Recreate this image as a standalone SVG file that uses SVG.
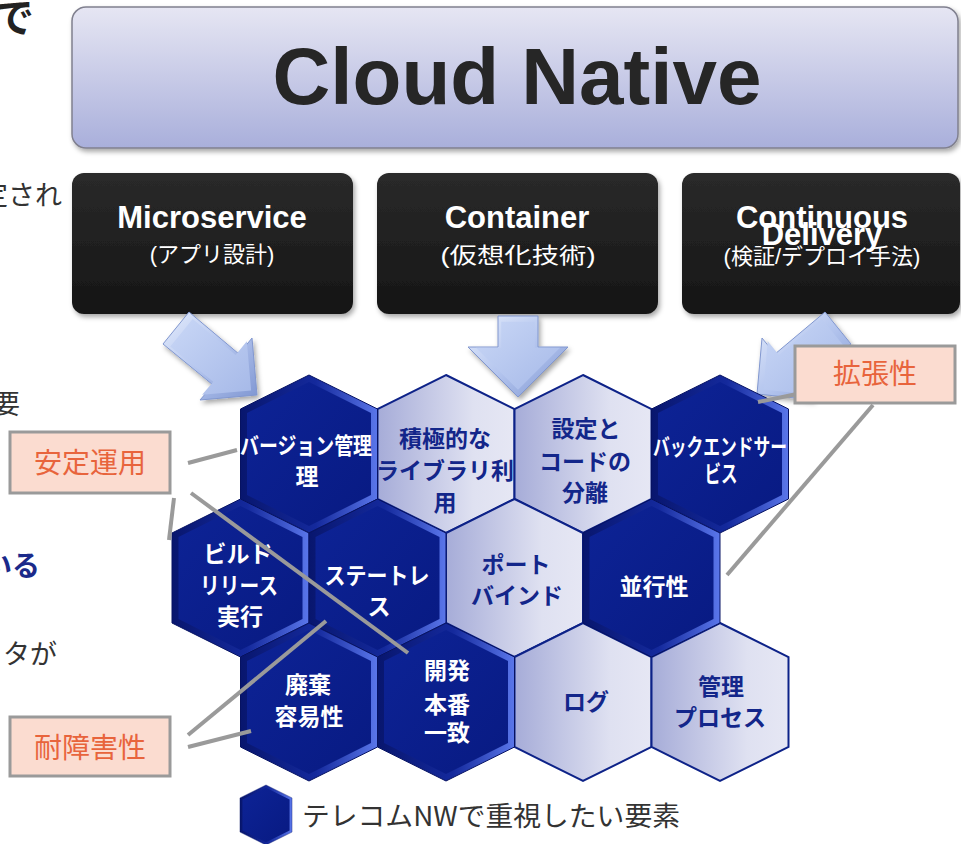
<svg xmlns="http://www.w3.org/2000/svg" xmlns:xlink="http://www.w3.org/1999/xlink" width="961" height="844" viewBox="0 0 961 844">
  <style>
    .jp { font-family: "Noto Sans CJK JP", "Liberation Sans", sans-serif; }
    .en { font-family: "Liberation Sans", "Noto Sans CJK JP", sans-serif; }
    .hl { font-family: "Noto Sans CJK JP", sans-serif; font-weight: 700; font-size: 23px; text-anchor: middle; }
    .hw { fill: #ffffff; }
    .hb { fill: #13268a; }
    .boxTitle { font-family: "Liberation Sans", sans-serif; font-weight: 700; font-size: 31px; fill: #ffffff; text-anchor: middle; }
    .boxSub { font-family: "Liberation Sans", "Noto Sans CJK JP", sans-serif; font-size: 22px; fill: #ffffff; text-anchor: middle; }
    .tag rect { fill: #fbdcd0; stroke: #9a9a9a; stroke-width: 3; }
    .tag text { font-family: "Noto Sans CJK JP", sans-serif; font-size: 28px; fill: #e8643c; text-anchor: middle; }
    .conn line { stroke: #9a9a9a; stroke-width: 4; }
    .arrowOuter { fill: url(#arrowEdge); stroke: #8197cf; stroke-width: 1; }
    .arrowInner { fill: url(#arrowFace); }
    .side { font-size: 27px; fill: #333333; text-anchor: end; }
  </style>
  <defs>
    <linearGradient id="titleFill" x1="0" y1="0" x2="0" y2="1">
      <stop offset="0" stop-color="#e6e6f3"/>
      <stop offset="1" stop-color="#a9afdb"/>
    </linearGradient>
    <linearGradient id="blackFill" x1="0" y1="0" x2="0" y2="1">
      <stop offset="0" stop-color="#2a2a2a"/>
      <stop offset="1" stop-color="#151515"/>
    </linearGradient>
    <linearGradient id="arrowEdge" x1="0" y1="0" x2="1" y2="1">
      <stop offset="0" stop-color="#e4ecfc"/>
      <stop offset="0.5" stop-color="#b4c5ee"/>
      <stop offset="1" stop-color="#7f96d2"/>
    </linearGradient>
    <linearGradient id="arrowFace" x1="0" y1="0" x2="1" y2="1">
      <stop offset="0" stop-color="#c9d7f6"/>
      <stop offset="1" stop-color="#a6b9e8"/>
    </linearGradient>
    <linearGradient id="bevel" x1="0" y1="0" x2="1" y2="0">
      <stop offset="0" stop-color="#08166e"/>
      <stop offset="0.55" stop-color="#14299c"/>
      <stop offset="1" stop-color="#5a76ea"/>
    </linearGradient>
    <linearGradient id="darkFace" x1="0" y1="0" x2="1" y2="1">
      <stop offset="0" stop-color="#0d2396"/>
      <stop offset="1" stop-color="#081a82"/>
    </linearGradient>
    <linearGradient id="lightFace" x1="0" y1="0" x2="1" y2="0">
      <stop offset="0" stop-color="#a6acd8"/>
      <stop offset="0.7" stop-color="#dfe1f1"/>
      <stop offset="1" stop-color="#e6e7f4"/>
    </linearGradient>
    <filter id="shadow" x="-15%" y="-15%" width="135%" height="140%">
      <feDropShadow dx="2" dy="3" stdDeviation="2.5" flood-color="#000000" flood-opacity="0.35"/>
    </filter>
    <!-- pointy-top hexagon tiles, centred on the origin -->
    <g id="hexDark">
      <polygon points="0,-79 68.5,-45 68.5,45 0,79 -68.5,45 -68.5,-45" fill="url(#bevel)" stroke="#061262" stroke-width="1"/>
      <polygon points="0,-72 62,-41 62,41 0,72 -62,41 -62,-41" fill="url(#darkFace)"/>
    </g>
    <polygon id="hexLight" points="0,-79 68.5,-45 68.5,45 0,79 -68.5,45 -68.5,-45" fill="url(#lightFace)" stroke="#0d2288" stroke-width="2"/>
    <!-- block arrow outlines -->
    <polygon id="arrowMs" points="189,312 239,354 252,338 257,395 200,400 213,385 163,344"/>
    <polygon id="arrowCt" points="498,316 538,316 538,347 568,347 518,397 468,347 498,347"/>
    <polygon id="arrowCd" points="825,312 775,354 762,338 757,394 814,400 801,385 851,344"/>
  </defs>

  <rect width="961" height="844" fill="#ffffff"/>

  <!-- clipped body text along the left margin -->
  <g id="margin-text" class="jp">
    <text x="34" y="32" font-size="40" font-weight="700" fill="#222222" text-anchor="end">で</text>
    <text class="side" x="62" y="205" font-size="26">定され</text>
    <text class="side" x="20" y="414" font-size="30">要</text>
    <text x="40" y="576" font-size="28" font-weight="700" fill="#1b2a8a" text-anchor="end">いる</text>
    <text class="side" x="57" y="664" font-size="28">タが</text>
  </g>

  <!-- title banner -->
  <g id="cloud-native">
    <rect x="72" y="7" width="886" height="141" rx="14" fill="url(#titleFill)" stroke="#80808f" stroke-width="1.5" filter="url(#shadow)"/>
    <text class="en" x="517" y="104" font-size="80" font-weight="700" fill="#262626" text-anchor="middle">Cloud Native</text>
  </g>

  <!-- three pillars -->
  <g id="microservice">
    <rect x="72" y="173" width="281" height="141" rx="12" fill="url(#blackFill)" filter="url(#shadow)"/>
    <text class="boxTitle" x="212" y="228">Microservice</text>
    <text class="boxSub" x="212" y="262">(アプリ設計)</text>
  </g>
  <g id="container">
    <rect x="377" y="173" width="281" height="141" rx="12" fill="url(#blackFill)" filter="url(#shadow)"/>
    <text class="boxTitle" x="517" y="228">Container</text>
    <text class="boxSub" x="518" y="263" font-size="25" textLength="155" lengthAdjust="spacingAndGlyphs">(仮想化技術)</text>
  </g>
  <g id="continuous-delivery">
    <rect x="682" y="173" width="278" height="141" rx="12" fill="url(#blackFill)" filter="url(#shadow)"/>
    <text class="boxTitle" x="822" y="228">Continuous</text>
    <text class="boxTitle" x="822" y="245">Delivery</text>
    <text class="boxSub" x="822" y="264" font-size="21">(検証/デプロイ手法)</text>
  </g>

  <!-- block arrows from pillars into the factor grid -->
  <g id="pillar-arrows">
    <g filter="url(#shadow)">
      <use href="#arrowMs" class="arrowOuter"/>
      <use href="#arrowCt" class="arrowOuter"/>
      <use href="#arrowCd" class="arrowOuter"/>
    </g>
    <use href="#arrowMs" class="arrowInner" transform="translate(215 362) scale(0.86) translate(-215 -362)"/>
    <use href="#arrowCt" class="arrowInner" transform="translate(518 352) scale(0.84) translate(-518 -352)"/>
    <use href="#arrowCd" class="arrowInner" transform="translate(803 362) scale(0.86) translate(-803 -362)"/>
  </g>

  <!-- light tiles -->
  <g id="hex-library">
    <use href="#hexLight" x="446" y="454"/>
    <text class="hl hb" x="445" y="447" font-size="24">積極的な</text>
    <text class="hl hb" x="445" y="479" font-size="22">ライブラリ利</text>
    <text class="hl hb" x="445" y="511" font-size="22">用</text>
  </g>
  <g id="hex-config">
    <use href="#hexLight" x="583" y="454"/>
    <text class="hl hb" x="586" y="437">設定と</text>
    <text class="hl hb" x="585" y="470" font-size="22">コードの</text>
    <text class="hl hb" x="585" y="501">分離</text>
  </g>
  <g id="hex-port">
    <use href="#hexLight" x="514.5" y="578"/>
    <text class="hl hb" x="516" y="573" font-size="22">ポート</text>
    <text class="hl hb" x="517" y="604" font-size="22">バインド</text>
  </g>
  <g id="hex-log">
    <use href="#hexLight" x="583" y="702"/>
    <text class="hl hb" x="586" y="710" font-size="22">ログ</text>
  </g>
  <g id="hex-admin">
    <use href="#hexLight" x="720" y="702"/>
    <text class="hl hb" x="721" y="695" font-size="25">管理</text>
    <text class="hl hb" x="720" y="726" font-size="22">プロセス</text>
  </g>

  <!-- dark tiles: factors weighted for telecom networks -->
  <g id="hex-version">
    <use href="#hexDark" x="309" y="454"/>
    <text class="hl hw" x="306" y="454" font-size="22" textLength="132" lengthAdjust="spacingAndGlyphs">バージョン管理</text>
    <text class="hl hw" x="307" y="485">理</text>
  </g>
  <g id="hex-backing">
    <use href="#hexDark" x="720" y="454"/>
    <text class="hl hw" x="720" y="455" font-size="19" textLength="134" lengthAdjust="spacingAndGlyphs">バックエンドサー</text>
    <text class="hl hw" x="721" y="482" font-size="19" textLength="33" lengthAdjust="spacingAndGlyphs">ビス</text>
  </g>
  <g id="hex-build">
    <use href="#hexDark" x="240.5" y="578"/>
    <text class="hl hw" x="238" y="562" font-size="21">ビルド</text>
    <text class="hl hw" x="239" y="594" font-size="22" textLength="78" lengthAdjust="spacingAndGlyphs">リリース</text>
    <text class="hl hw" x="240" y="625" font-size="24">実行</text>
  </g>
  <g id="hex-stateless">
    <use href="#hexDark" x="377.5" y="578"/>
    <text class="hl hw" x="377" y="584" font-size="22" textLength="105" lengthAdjust="spacingAndGlyphs">ステートレ</text>
    <text class="hl hw" x="379" y="615" font-size="22">ス</text>
  </g>
  <g id="hex-concurrency">
    <use href="#hexDark" x="651.5" y="578"/>
    <text class="hl hw" x="654" y="595" font-size="25">並行性</text>
  </g>
  <g id="hex-disposability">
    <use href="#hexDark" x="309" y="702"/>
    <text class="hl hw" x="308" y="693" font-size="24">廃棄</text>
    <text class="hl hw" x="309" y="725" font-size="25">容易性</text>
  </g>
  <g id="hex-parity">
    <use href="#hexDark" x="446" y="702"/>
    <text class="hl hw" x="447" y="679" font-size="25">開発</text>
    <text class="hl hw" x="447" y="713" font-size="25">本番</text>
    <text class="hl hw" x="447" y="741" font-size="25">一致</text>
  </g>

  <!-- callout leader lines -->
  <g id="connectors" class="conn">
    <line x1="188" y1="463" x2="237" y2="450"/>
    <line x1="191" y1="493" x2="408" y2="653"/>
    <line x1="174" y1="498" x2="169" y2="540"/>
    <line x1="188" y1="735" x2="326" y2="621"/>
    <line x1="188" y1="747" x2="251" y2="731"/>
    <line x1="758" y1="402" x2="797" y2="394"/>
    <line x1="873" y1="405" x2="727" y2="575"/>
  </g>

  <!-- callout tags -->
  <g id="tag-stable-ops" class="tag">
    <rect x="10" y="432" width="160" height="61"/>
    <text x="90" y="473">安定運用</text>
  </g>
  <g id="tag-scalability" class="tag">
    <rect x="795" y="346" width="160" height="57"/>
    <text x="875" y="384">拡張性</text>
  </g>
  <g id="tag-fault-tolerance" class="tag">
    <rect x="10" y="717" width="160" height="59"/>
    <text x="90" y="758">耐障害性</text>
  </g>

  <!-- legend -->
  <g id="legend">
    <use href="#hexDark" transform="translate(266 815) scale(0.38)"/>
    <text class="jp" x="302" y="826" font-size="27" fill="#333333" textLength="378" lengthAdjust="spacingAndGlyphs">テレコムNWで重視したい要素</text>
  </g>
</svg>
